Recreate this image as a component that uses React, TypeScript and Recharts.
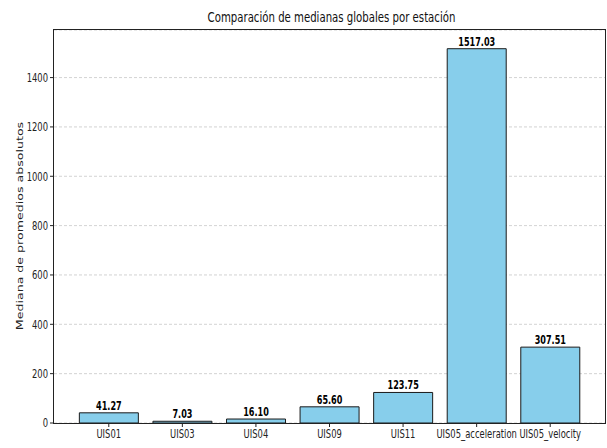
import React from "react";
import { BarChart, Bar, XAxis, YAxis, CartesianGrid, LabelList } from "recharts";

const STATIONS = ["UIS01", "UIS03", "UIS04", "UIS09", "UIS11", "UIS05_acceleration", "UIS05_velocity"];
const MEDIANS = [41.27, 7.03, 16.1, 65.6, 123.75, 1517.03, 307.51];
const Y_TICKS = [0, 200, 400, 600, 800, 1000, 1200, 1400];

const FONT = "'DejaVu Sans', sans-serif";
const SQUISH = 0.7; // the reference is narrower than it is tall

const data = STATIONS.map((s, i) => ({ station: s, value: MEDIANS[i] }));

function XTick(props: any) {
  const { x, y, payload } = props;
  return (
    <g transform={`translate(${x},${y}) scale(${SQUISH},1)`}>
      <text x={0} y={0} dy="0.76em" textAnchor="middle" fontSize={12} fontFamily={FONT} fill="#222">
        {payload.value}
      </text>
    </g>
  );
}

function YTick(props: any) {
  const { x, y, payload } = props;
  return (
    <g transform={`translate(${x},${y}) scale(${SQUISH},1)`}>
      <text x={0} y={0} dy="0.36em" textAnchor="end" fontSize={12} fontFamily={FONT} fill="#222">
        {payload.value}
      </text>
    </g>
  );
}

function BarLabel(props: any) {
  const { x, y, width, value } = props;
  return (
    <g transform={`translate(${x + width / 2},${y - 3}) scale(${SQUISH},1)`}>
      <text x={0} y={0} textAnchor="middle" fontSize={11.6} fontWeight="bold" fontFamily={FONT} fill="#000">
        {Number(value).toFixed(2)}
      </text>
    </g>
  );
}

export default function App() {
  return (
    <div style={{ position: "absolute", left: 0, top: 0, width: 607, height: 448, background: "#fff" }}>
      <BarChart
        width={607}
        height={448}
        data={data}
        margin={{ top: 30, right: 2, bottom: 0, left: 0 }}
        barCategoryGap="10%"
      >
        <CartesianGrid vertical={false} stroke="#c8c8c8" strokeDasharray="3 2" strokeWidth={0.8} />
        <XAxis
          dataKey="station"
          height={25}
          interval={0}
          padding={{ left: 18, right: 18 }}
          axisLine={false}
          tickSize={4}
          tickMargin={2}
          tickLine={{ stroke: "#222" }}
          tick={XTick}
        />
        <YAxis
          width={54}
          domain={[0, 1592.88]}
          ticks={Y_TICKS}
          allowDataOverflow
          axisLine={false}
          tickSize={4}
          tickMargin={2}
          tickLine={{ stroke: "#222" }}
          tick={YTick}
        />
        <Bar dataKey="value" fill="#87CEEB" stroke="#1a1a1a" strokeWidth={1} isAnimationActive={false}>
          <LabelList dataKey="value" content={BarLabel} />
        </Bar>
      </BarChart>

      {/* frame round the plot */}
      <div
        style={{
          position: "absolute", left: 53, top: 29, width: 551, height: 393,
          border: "1px solid #222", pointerEvents: "none",
        }}
      />

      {/* title */}
      <div
        style={{
          position: "absolute", left: 56, top: 8, width: 551, textAlign: "center",
          fontFamily: FONT, fontSize: 14.5, lineHeight: "18px", color: "#111",
          transform: `scaleX(${SQUISH})`, whiteSpace: "nowrap",
        }}
      >
        Comparación de medianas globales por estación
      </div>

      {/* y label */}
      <div
        style={{
          position: "absolute", left: 20 - 150, top: 226 - 8, width: 300, height: 16,
          textAlign: "center", fontFamily: FONT, fontSize: 12.6, lineHeight: "16px", color: "#222",
          transform: `scaleX(${SQUISH}) rotate(-90deg)`, whiteSpace: "nowrap",
        }}
      >
        Mediana de promedios absolutos
      </div>
    </div>
  );
}
